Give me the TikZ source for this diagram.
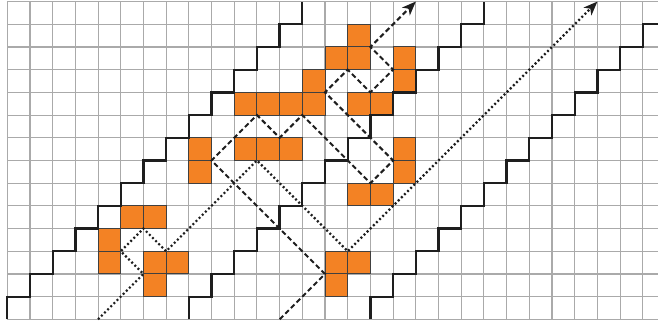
\documentclass[tikz,border=0pt]{standalone}
\usepackage{xcolor}
\usepackage{tikz}
\usetikzlibrary{arrows.meta}
\definecolor{ballorange}{RGB}{243,130,36}
\definecolor{gridgray}{RGB}{170,170,170}
\definecolor{inkblack}{RGB}{30,30,30}
\tikzset{
    gridline/.style={draw=gridgray, line width=1.1pt},
    ballcell/.style={fill=ballorange, draw=inkblack!85, line width=1pt},
    wallline/.style={draw=inkblack, line width=2.3pt},
    dashray/.style={draw=inkblack, line width=2pt, dash pattern=on 5pt off 3pt},
    dotray/.style={draw=inkblack, line width=2.2pt, dash pattern=on 2pt off 2.4pt},
    raytip/.style={-{Stealth[length=14pt,width=11pt,inset=4pt]}}
}

\begin{document}
\begin{tikzpicture}[x=22.7pt, y=22.7pt]
    \useasboundingbox (-0.32,-0.25) rectangle (28.67,14.07);

    \foreach \col in {0,...,28}
        \draw[gridline] (\col,0) -- (\col,14);
    \foreach \row in {0,...,14}
        \draw[gridline] (0,\row) -- (28.67,\row);

    \foreach \cx/\cy in {6/1,4/2,6/2,7/2,4/3,5/4,6/4,8/6,8/7,10/7,11/7,12/7,14/1,14/2,15/2,15/5,16/5,17/6,17/7,
                         10/9,11/9,12/9,13/9,15/9,16/9,13/10,17/10,14/11,15/11,17/11,15/12}
        \draw[ballcell] (\cx,\cy) rectangle ++(1,1);

    \draw[wallline] (0,0) foreach \k in {0,...,12} { -- (\k,\k+1) -- (\k+1,\k+1) } -- (13,14);
    \draw[wallline] (8,0) foreach \k in {0,...,12} { -- (\k+8,\k+1) -- (\k+9,\k+1) } -- (21,14);
    \draw[wallline] (16,0) foreach \k in {0,...,11} { -- (\k+16,\k+1) -- (\k+17,\k+1) } -- (28,13) -- (28.67,13);

    \draw[dotray, raytip] (4,0) -- (6,2) -- (5,3) -- (6,4) -- (7,3) -- (11,7) -- (15,3) -- (26,14);
    \draw[dashray, raytip] (12,0) -- (14,2) -- (9,7) -- (11,9) -- (12,8) -- (13,9) -- (16,6) -- (17,7)
        -- (14,10) -- (15,11) -- (16,10) -- (17,11) -- (16,12) -- (18,14);
\end{tikzpicture}
\end{document}
